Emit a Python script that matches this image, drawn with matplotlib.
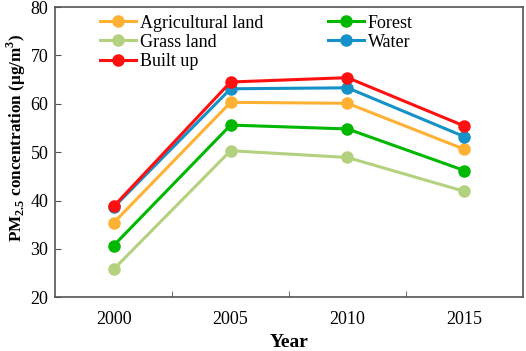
import numpy as np
import matplotlib.pyplot as plt

plt.rcParams['font.family'] = ['Liberation Serif', 'DejaVu Serif']
plt.rcParams['mathtext.fontset'] = 'custom'
plt.rcParams['mathtext.rm'] = 'Liberation Serif'
plt.rcParams['mathtext.bf'] = 'Liberation Serif:bold'

years = ['2000', '2005', '2010', '2015']
agricultural = [35.4, 60.3, 60.1, 50.6]
forest = [30.7, 55.6, 54.8, 46.2]
grass = [25.8, 50.3, 48.9, 41.9]
water = [38.6, 63.1, 63.3, 53.2]
built_up = [38.8, 64.5, 65.4, 55.4]

series = [
    ("Agricultural land", agricultural, "#FFB133"),
    ("Forest", forest, "#00B800"),
    ("Grass land", grass, "#B3D17F"),
    ("Water", water, "#1491C6"),
    ("Built up", built_up, "#FF1010"),
]

fig = plt.figure(figsize=(5.26, 3.51), dpi=100)
ax = fig.add_axes([0.105, 0.153, 0.889, 0.827])

x = np.arange(len(years))
lines = {}
for name, vals, col in series:
    lines[name], = ax.plot(x, vals, color=col, lw=2.2, marker='o', ms=8, label=name)

ax.set_xlim(-0.5, 3.5)
ax.set_ylim(20, 80)
ax.set_yticks(np.arange(20, 81, 10))
ax.set_xticks(x)
ax.set_xticklabels(years)
ax.set_xticks(np.arange(0.5, 3, 1), minor=True)
ax.tick_params(axis='x', which='major', length=0, labelsize=13, pad=10)
ax.tick_params(axis='x', which='minor', direction='in', length=4, color='#555555')
ax.tick_params(axis='y', direction='in', length=4, labelsize=13, color='#555555', pad=5)
for s in ax.spines.values():
    s.set_color('#555555')
    s.set_linewidth(1.2)

ax.set_xlabel("Year", fontsize=14, fontweight='bold', labelpad=4)
ax.set_ylabel(r"PM$_\mathbf{2.5}$ concentration ($\mathbf{\mu}$g/m$^\mathbf{3}$)",
              fontsize=12.3, fontweight='bold')
ax.yaxis.set_label_coords(-0.058, 0.55)

order = ["Agricultural land", "Grass land", "Built up", "Forest", "Water"]
ax.legend([lines[n] for n in order], order, ncol=2, frameon=False,
          loc='upper left', bbox_to_anchor=(0.061, 1.03),
          fontsize=13, handlelength=2.0, handletextpad=0.2, columnspacing=3.6,
          labelspacing=0.12)

fig.savefig("out.png", dpi=100)
